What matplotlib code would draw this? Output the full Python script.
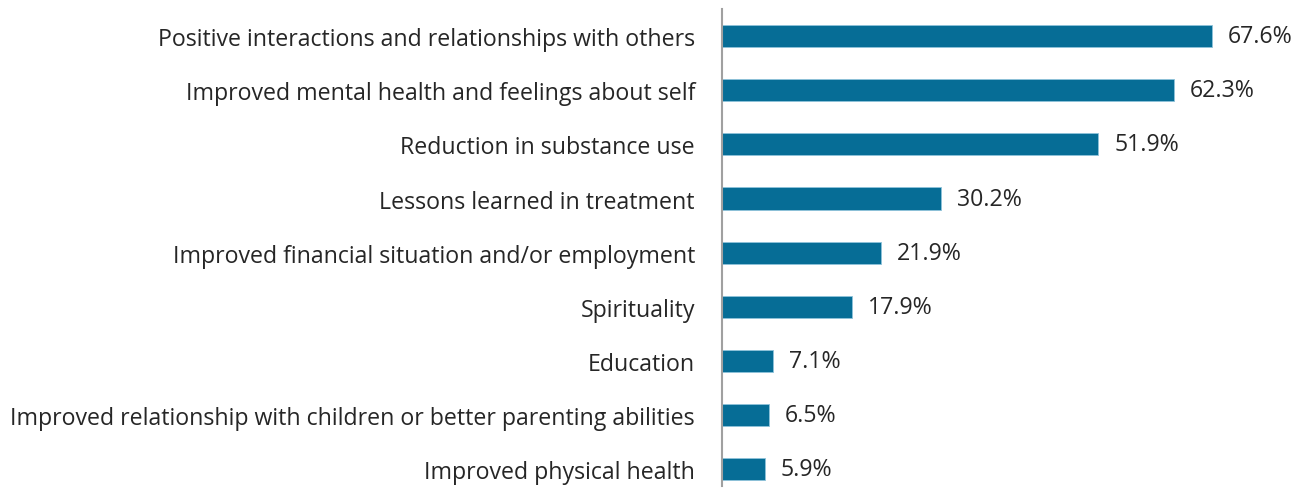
import matplotlib.pyplot as plt

categories = [
    "Positive interactions and relationships with others",
    "Improved mental health and feelings about self",
    "Reduction in substance use",
    "Lessons learned in treatment",
    "Improved financial situation and/or employment",
    "Spirituality",
    "Education",
    "Improved relationship with children or better parenting abilities",
    "Improved physical health",
]
values = [67.6, 62.3, 51.9, 30.2, 21.9, 17.9, 7.1, 6.5, 5.9]

W, H = 1307, 489
fig = plt.figure(figsize=(W / 100, H / 100), dpi=100)
ax = fig.add_axes([722 / W, (H - 487) / H, (W - 722) / W, (487 - 10) / H])

pos = list(range(len(categories)))
ax.barh(pos, values, height=0.41, color="#066D96", edgecolor="#8EC3DA", linewidth=0.6)

for p, v in zip(pos, values):
    ax.text(v + 2.2, p, f"{v}%", va="center", ha="left", fontsize=16.7,
            family="Open Sans", color="#262626")

ax.set_xlim(0, 80.7)
ax.set_ylim(8.31, -0.5)
ax.set_yticks(pos)
ax.set_yticklabels(categories, fontsize=16.7, family="Open Sans", color="#262626")
ax.tick_params(axis="y", length=0, pad=19.5)
ax.set_xticks([])
for s in ["top", "right", "bottom"]:
    ax.spines[s].set_visible(False)
ax.spines["left"].set_color("#A0A0A0")
ax.spines["left"].set_linewidth(1.5)

fig.savefig("out.png", dpi=100, facecolor="white")
